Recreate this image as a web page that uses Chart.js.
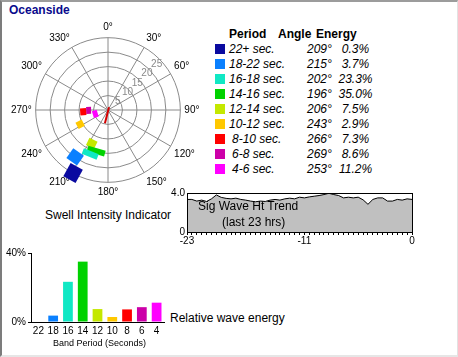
<!DOCTYPE html>
<html><head><meta charset="utf-8">
<script src="https://cdn.jsdelivr.net/npm/chart.js@4/dist/chart.umd.min.js"></script>
<style>
html,body{margin:0;padding:0;background:#fff;}
#frame{position:relative;width:458px;height:357px;overflow:hidden;font-family:"Liberation Sans",Arial,sans-serif;color:#000;background:#fff;}
#border{position:absolute;left:0;top:0;width:458px;height:357px;box-sizing:border-box;border-top:2px solid #9c9c9c;border-left:2px solid #7c7c7c;border-right:1px solid #e2e2e2;border-bottom:2px solid #e6e6e6;pointer-events:none;z-index:5;}
.abs{position:absolute;white-space:nowrap;}
canvas{position:absolute;}
</style></head>
<body>
<div id="frame">
  <div class="abs" style="left:9px;top:3px;font:bold 12px 'Liberation Sans',Arial,sans-serif;color:#0a0a8c;line-height:14px;">Oceanside</div>
  <canvas id="polar" width="194" height="194" style="left:9px;top:13px;"></canvas>
  <div class="abs" style="left:45px;top:208px;font-size:12px;line-height:14px;">Swell Intensity Indicator</div>
  <div id="legend"></div>
  <canvas id="trend" width="250" height="62" style="left:165px;top:185px;"></canvas>
  <div class="abs" style="left:198px;top:199px;font-size:12px;line-height:14px;">Sig Wave Ht Trend</div>
  <div class="abs" style="left:222px;top:215px;font-size:12px;line-height:14px;">(last 23 hrs)</div>
  <canvas id="bars" width="166" height="105" style="left:0px;top:245px;"></canvas>
  <div class="abs" style="left:170px;top:311px;font-size:12px;line-height:14px;">Relative wave energy</div>
  <div class="abs" style="left:49px;top:338px;width:101px;text-align:center;font-size:9px;line-height:11px;">Band Period (Seconds)</div>
  <div id="border"></div>
</div>
<script>
// ---------- data ----------
const compassLabels = ['0°','30°','60°','90°','120°','150°','180°','210°','240°','270°','300°','330°'];
const ringTicks = [5, 10, 15, 20, 25];
const bandNames = ['22+ sec.','18-22 sec.','16-18 sec.','14-16 sec.','12-14 sec.','10-12 sec.','8-10 sec.','6-8 sec.','4-6 sec.'];
const bandAngles = [209, 215, 202, 196, 206, 243, 266, 269, 253];
const bandEnergy = [0.3, 3.7, 23.3, 35.0, 7.5, 2.9, 7.3, 8.6, 11.2];
const bandRadius = [24.9, 19.8, 16.4, 14.8, 12.8, 10.8, 8.6, 6.7, 4.6];
const barLabels = ['22','18','16','14','12','10','8','6','4'];
const arrowAngles = [20, 193];
const arrowRadii = [1.0, 4.7];
const trendHours = [-23,-22.5,-22,-21.5,-21,-20.5,-20,-19.5,-19,-18.5,-18,-17.5,-17,-16.5,-16,-15.5,-15,-14.5,-14,-13.5,-13,-12.5,-12,-11.5,-11,-10.5,-10,-9.5,-9,-8.5,-8,-7.5,-7,-6.5,-6,-5.5,-5,-4.5,-4,-3.5,-3,-2.5,-2,-1.5,-1,-0.5,0];
const trendHeights = [3.34,3.34,3.17,3.27,3.13,3.4,3.8,3.55,3.45,3.4,3.47,3.34,3.27,3.17,3.1,3.17,3.13,3.27,3.34,3.27,3.4,3.47,3.4,3.57,3.5,3.6,3.67,3.74,3.84,3.97,3.84,3.74,3.5,3.57,3.5,3.57,3.3,2.84,3.34,3.5,3.5,3.17,3.17,3.34,3.27,3.4,3.34];
const trendAxisLabels = [-23, -11, 0];
const heightTicks = [0, 4];
const energyTicks = [0, 40];

// ---------- styles ----------
const bandColors = ['#0a0aa0','#0a80ff','#10e8c4','#00d200','#c4e800','#ffc800','#ff0000','#cc00a8','#ff00ff'];
const markW = [14, 13, 16, 18, 9, 7, 7, 7, 7];
const markH = [15, 12, 6, 6, 8, 7, 6, 5, 5];
const FONT = "'Liberation Sans', Arial, sans-serif";
Chart.defaults.font.family = FONT;
Chart.defaults.color = '#000';

// ---------- legend table ----------
const legend = document.getElementById('legend');
function addText(txt, css) {
  const d = document.createElement('div');
  d.className = 'abs';
  d.textContent = txt;
  d.style.cssText += css;
  legend.appendChild(d);
  return d;
}
addText('Period', 'left:229px;top:27px;font-weight:bold;font-size:12px;line-height:14px;');
addText('Angle', 'left:278px;top:27px;font-weight:bold;font-size:12px;line-height:14px;');
addText('Energy', 'left:316px;top:27px;font-weight:bold;font-size:12px;line-height:14px;');
bandNames.forEach((name, i) => {
  const cy = 48.7 + 15 * i;
  const sw = document.createElement('div');
  sw.className = 'abs';
  sw.style.cssText = `left:215px;top:${cy - 5}px;width:10px;height:10px;background:${bandColors[i]};`;
  legend.appendChild(sw);
  const indent = /^\d-/.test(name) ? 3 : 0;
  addText(name, `left:${229 + indent}px;top:${cy - 7}px;font-style:italic;font-size:12px;line-height:14px;`);
  addText(bandAngles[i] + '°', `left:307px;top:${cy - 7}px;font-style:italic;font-size:12px;line-height:14px;`);
  addText(bandEnergy[i].toFixed(1) + '%', `left:330px;top:${cy - 7}px;width:51px;text-align:center;font-style:italic;font-size:12px;line-height:14px;`);
});

// ---------- polar (radar) ----------
const radarLabels = [];
for (let i = 0; i < 360; i++) radarLabels.push(i % 30 === 0 ? compassLabels[i / 30] : '');

function placeAt(angle, value) {
  const d = new Array(360).fill(null);
  d[((angle % 360) + 360) % 360] = value;
  return d;
}
function markImage(w, h, color) {
  const c = document.createElement('canvas');
  c.width = w; c.height = h;
  const g = c.getContext('2d');
  g.fillStyle = color; g.fillRect(0, 0, w, h);
  return c;
}
const polarSets = bandNames.map((name, i) => ({
  label: name,
  data: placeAt(bandAngles[i], bandRadius[i]),
  showLine: false,
  borderWidth: 0,
  pointStyle: markImage(markW[i], markH[i], bandColors[i]),
  pointRotation: bandAngles[i],
  pointRadius: 4,
  backgroundColor: bandColors[i],
  borderColor: bandColors[i]
}));
const arrowData = new Array(360).fill(null);
arrowAngles.forEach((a, i) => { arrowData[a] = arrowRadii[i]; });
polarSets.push({
  label: 'arrow', data: arrowData, spanGaps: true, showLine: true, fill: false,
  borderColor: '#d40000', borderWidth: 2, pointRadius: 0
});

const ringTickLabels = {
  id: 'ringTickLabels',
  beforeDatasetsDraw(chart) {
    const r = chart.scales.r, ctx = chart.ctx;
    ctx.save();
    ctx.font = '10px ' + FONT;
    ctx.fillStyle = '#8a8a8a';
    ctx.textAlign = 'center';
    ctx.textBaseline = 'middle';
    const a = 47 * Math.PI / 180;
    ringTicks.forEach(v => {
      const d = r.getDistanceFromCenterForValue(v) * 0.92;
      ctx.fillText(String(v), r.xCenter + d * Math.sin(a), r.yCenter - d * Math.cos(a));
    });
    ctx.restore();
  }
};

new Chart(document.getElementById('polar'), {
  type: 'radar',
  data: { labels: radarLabels, datasets: polarSets },
  options: {
    responsive: false, animation: false, devicePixelRatio: 1,
    plugins: { legend: { display: false }, tooltip: { enabled: false } },
    elements: { line: { tension: 0 } },
    scales: {
      r: {
        min: 0, max: 25, startAngle: 0,
        ticks: { display: false, stepSize: 5 },
        grid: { circular: true, color: '#8a8a8a', lineWidth: 1 },
        angleLines: { display: true, color: '#8a8a8a', lineWidth: c => (c.index % 30 === 0 ? 1 : 0) },
        pointLabels: { font: { size: 10 }, color: '#000', padding: 4 }
      }
    }
  },
  plugins: [ringTickLabels]
});

// ---------- trend ----------
const boxBorder = {
  id: 'boxBorder',
  afterDraw(chart) {
    const a = chart.chartArea, ctx = chart.ctx;
    ctx.save();
    ctx.strokeStyle = '#000'; ctx.lineWidth = 1;
    ctx.strokeRect(Math.round(a.left) + 0.5, Math.round(a.top) + 0.5, Math.round(a.right - a.left), Math.round(a.bottom - a.top));
    ctx.restore();
  }
};
new Chart(document.getElementById('trend'), {
  type: 'line',
  data: { datasets: [{
    data: trendHours.map((h, i) => ({ x: h, y: trendHeights[i] })),
    fill: 'origin', backgroundColor: '#c0c0c0', borderColor: '#000', borderWidth: 1, pointRadius: 0, tension: 0
  }] },
  options: {
    responsive: false, animation: false, devicePixelRatio: 1,
    plugins: { legend: { display: false }, tooltip: { enabled: false } },
    layout: { padding: { top: 7, right: 3 } },
    scales: {
      x: {
        type: 'linear', min: -23, max: 0,
        afterBuildTicks: s => { s.ticks = trendHours.map(v => ({ value: v })); },
        ticks: { autoSkip: false, maxRotation: 0, padding: 0, font: { size: 10 }, color: '#000',
          callback: v => (trendAxisLabels.includes(v) ? String(v) : '') },
        grid: { drawOnChartArea: false, tickLength: 3, color: '#000' },
        border: { color: '#000' },
        afterFit: s => { s.height = 15; }
      },
      y: {
        min: 0, max: 4,
        afterBuildTicks: s => { s.ticks = heightTicks.map(v => ({ value: v })); },
        ticks: { font: { size: 10 }, color: '#000', padding: 2, callback: v => (v === 4 ? '4.0' : String(v)) },
        grid: { display: false, drawTicks: false },
        border: { color: '#000' },
        afterFit: s => { s.width = 22; }
      }
    }
  },
  plugins: [boxBorder]
});

// ---------- bars ----------
new Chart(document.getElementById('bars'), {
  type: 'bar',
  data: { labels: barLabels, datasets: [{
    data: bandEnergy, backgroundColor: bandColors, borderWidth: 0,
    barPercentage: 0.66, categoryPercentage: 1
  }] },
  options: {
    responsive: false, animation: false, devicePixelRatio: 1,
    plugins: { legend: { display: false }, tooltip: { enabled: false } },
    layout: { padding: { top: 8, right: 2 } },
    scales: {
      x: {
        grid: { display: false, drawTicks: false }, border: { color: '#000' },
        ticks: { font: { size: 10 }, color: '#000', padding: 3, maxRotation: 0, autoSkip: false },
        afterFit: s => { s.height = 28; }
      },
      y: {
        min: 0, max: 40,
        afterBuildTicks: s => { s.ticks = energyTicks.map(v => ({ value: v })); },
        ticks: { font: { size: 10 }, color: '#000', padding: 2, callback: v => v + '%' },
        grid: { drawOnChartArea: false, tickLength: 3, color: '#000' },
        border: { color: '#000' },
        afterFit: s => { s.width = 31; }
      }
    }
  }
});
</script>
</body></html>
